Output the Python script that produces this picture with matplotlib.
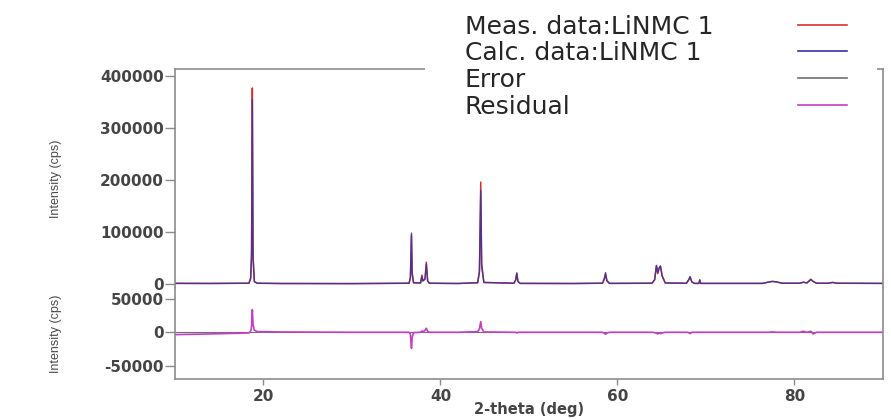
import matplotlib
matplotlib.use("Agg")
import matplotlib.pyplot as plt
from matplotlib.lines import Line2D
from matplotlib.patches import Rectangle

# 2-theta grid (deg)
tth = [10, 14, 18.35, 18.55, 18.65, 18.74, 18.82, 18.97, 19.3, 22, 30,
       36.45, 36.6, 36.72, 36.8, 36.95, 37.75, 37.9, 38.0, 38.25, 38.4, 38.55, 38.75,
       42, 44.2, 44.4, 44.55, 44.65, 44.9, 48.3, 48.5, 48.62, 48.75, 49.0,
       55, 58.3, 58.52, 58.65, 58.8, 59.1,
       63.9, 64.2, 64.4, 64.55, 64.7, 64.85, 65.05, 65.4,
       67.8, 68.05, 68.2, 68.4, 68.7, 69.2, 69.3, 69.4,
       76.4, 77.0, 77.5, 78.0, 78.6, 80.6, 81.0, 81.4, 81.85, 82.1, 82.5,
       83.8, 84.3, 84.8, 90]

meas_int = [1500, 1200, 1500, 12000, 60000, 377000, 55000, 5000, 1500, 1000, 800,
            1500, 12000, 94000, 20000, 2500, 2000, 17000, 6000, 10000, 42000, 6000, 1500,
            1000, 2500, 25000, 196000, 40000, 3000, 1500, 8000, 21000, 5000, 1200,
            1000, 1500, 10000, 19000, 6000, 1200,
            1500, 8000, 35000, 20000, 30000, 34000, 15000, 2000,
            1500, 8000, 13000, 4000, 1200, 1200, 8000, 1200,
            1200, 3500, 5000, 4000, 1500, 1500, 3500, 2000, 9000, 5000, 1500,
            1500, 3000, 1500, 1200]

calc_int = [1000, 1000, 1500, 10000, 50000, 355000, 48000, 4000, 1500, 1000, 800,
            1500, 13000, 98000, 22000, 2500, 2000, 15000, 6000, 9000, 38000, 5500, 1500,
            1000, 2500, 22000, 180000, 34000, 3000, 1500, 8000, 21000, 5000, 1200,
            1000, 1500, 11000, 22000, 7000, 1200,
            1500, 8500, 36000, 22000, 31000, 35000, 16000, 2000,
            1500, 8500, 14500, 4000, 1200, 1200, 7500, 1200,
            1200, 3500, 5000, 4000, 1500, 1500, 3500, 2000, 9000, 5000, 1500,
            1500, 3000, 1500, 1200]

res_int = [-3500, -2500, -1000, 1500, 8000, 34000, 12000, 3000, 1000, 500, 0,
           0, -3000, -24000, -8000, -500, 0, 2000, 500, 3000, 6000, 1500, 0,
           0, 1000, 5000, 16000, 6000, 500, 0, 0, -1000, 0, 0,
           0, 0, -1500, -3000, -1000, 0,
           0, -500, -1500, -2500, -1000, -2000, -1000, 0,
           0, -500, -2000, 0, 0, 0, 0, 0,
           0, 0, 500, 0, 0, 0, 1500, 0, 1500, -2500, 0,
           0, 0, 0, 0]

error_tth = [10, 90]
error_int = [0, 0]

labels = ["Meas. data:LiNMC 1", "Calc. data:LiNMC 1", "Error", "Residual"]
colors = ["#d83030", "#3434a4", "#707070", "#c83cc8"]

top_ticks = [0, 100000, 200000, 300000, 400000]
low_ticks = [-50000, 0, 50000]
x_ticks = [20, 40, 60, 80]

fig = plt.figure(figsize=(8.91, 4.19), dpi=100)
ax1 = fig.add_axes([0.1964, 0.3126, 0.7946, 0.5227])
ax2 = fig.add_axes([0.1964, 0.0955, 0.7946, 0.2172])

ax1.plot(tth, meas_int, color=colors[0], lw=1.1)
ax1.plot(tth, calc_int, color=colors[1], lw=1.0, alpha=0.85)
ax2.plot(error_tth, error_int, color=colors[2], lw=0.8)
ax2.plot(tth, res_int, color=colors[3], lw=1.2)

spine_c = "#8c8c8c"
tick_font = dict(family="DejaVu Sans", weight="bold", size=11, color="#454545")
lab_font = dict(family="Liberation Sans", size=9, color="#4a4a4a")

for ax in (ax1, ax2):
    ax.set_xlim(10, 90)
    for s in ax.spines.values():
        s.set_color(spine_c)
        s.set_linewidth(1.2)
    ax.tick_params(axis="y", direction="out", length=7, width=1, color=spine_c, pad=1)
    ax.set_ylabel("Intensity (cps)", **lab_font)
    ax.yaxis.set_label_coords(-0.16, 0.5)

ax1.spines["bottom"].set_visible(False)
ax2.spines["top"].set_visible(False)

ax1.set_ylim(-7700, 413500)
ax1.set_yticks(top_ticks)
ax1.set_yticklabels([str(v) for v in top_ticks], **tick_font)
ax1.set_xticks([])

ax2.set_ylim(-70000, 66400)
ax2.set_yticks(low_ticks)
ax2.set_yticklabels([str(v) for v in low_ticks], **tick_font)
ax2.set_xticks(x_ticks)
ax2.set_xticklabels([str(v) for v in x_ticks], **tick_font)
ax2.tick_params(axis="x", direction="out", length=4, width=1, color=spine_c, pad=3)
ax2.set_xlabel("2-theta (deg)", family="DejaVu Sans", weight="bold", size=10.5,
               color="#454545", va="center")
ax2.xaxis.set_label_coords(0.5, -0.34)

# legend block drawn over the top edge of the frame
fig.patches.append(Rectangle((425 / 891, 1 - 118 / 419), 452 / 891, 118 / 419,
                             transform=fig.transFigure, facecolor="white",
                             edgecolor="none", zorder=5))
rows_y = [27, 53, 80, 107]
for lab, c, yy in zip(labels, colors, rows_y):
    fy = 1 - yy / 419
    fig.text(465 / 891, fy, lab, ha="left", va="center", fontsize=18,
             family="DejaVu Sans", color="#262626", zorder=6)
    fig.add_artist(Line2D([798 / 891, 847 / 891], [fy + 1.5 / 419] * 2,
                          color=c, lw=1.2, zorder=6))

fig.savefig("out.png", dpi=100)
